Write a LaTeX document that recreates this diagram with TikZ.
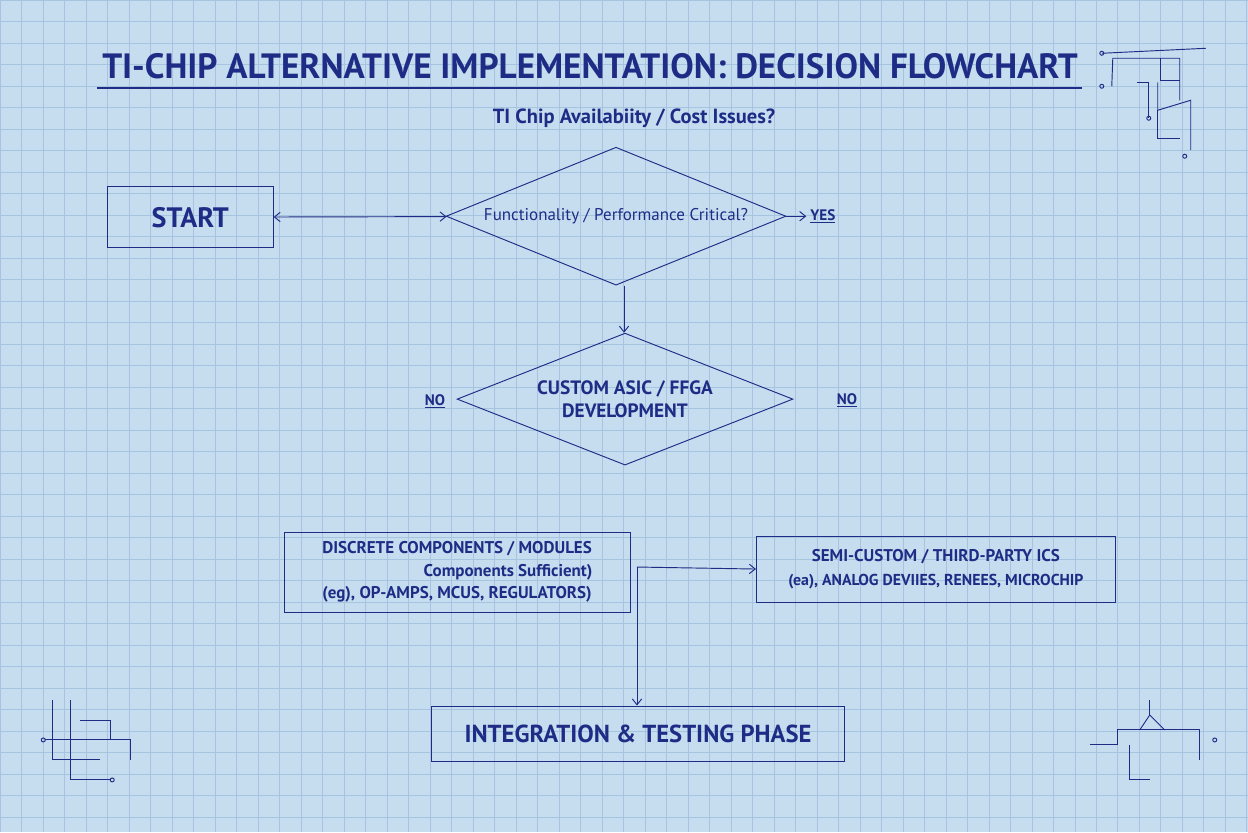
\documentclass[tikz,border=0pt]{standalone}
\usepackage{fontspec}
\setmainfont{PT Sans}
\usetikzlibrary{arrows.meta,positioning,shapes.geometric}
\definecolor{paper}{HTML}{C6DCEF}
\definecolor{gridc}{HTML}{A6C3E0}
\definecolor{ink}{HTML}{1E2C86}
\begin{document}
\begin{tikzpicture}[x=0.03cm, y=-0.03cm, >={Straight Barb[length=5pt,width=8pt]},
    box/.style={draw=ink, thick, text=ink, font=\bfseries, align=center, inner sep=0pt},
    dia/.style={draw=ink, thick, diamond, aspect=2.5, text=ink, align=center, inner sep=0pt},
    lbl/.style={text=ink, font=\bfseries},
    wire/.style={ink, thick}]
        % paper and grid
        \fill [paper] (0,0) rectangle (1248,832);
        \foreach \x in {0,21.5,...,1248}{
            \draw [gridc, line width=0.5pt] (\x,0) -- (\x,832);
        }
        \foreach \y in {0,21.5,...,832}{
            \draw [gridc, line width=0.5pt] (0,\y) -- (1248,\y);
        }
        \useasboundingbox (0,0) rectangle (1248,832);

        \node [lbl, font=\bfseries\fontsize{30}{34}\selectfont] (title) at (590,66) {TI-CHIP ALTERNATIVE IMPLEMENTATION: DECISION FLOWCHART};
        \draw [ink, line width=1.5pt] (97,88) -- (1082,88);
        \node [lbl, font=\bfseries\fontsize{17.5}{20}\selectfont] (issue) at (634,118) {TI Chip Availabiity / Cost Issues?};

        \node [box, minimum width=166*0.03cm, minimum height=61*0.03cm, font=\bfseries\fontsize{24}{28}\selectfont] (start) at (190,217) {START};
        \node [dia, minimum width=340*0.03cm, minimum height=138*0.03cm, font=\fontsize{14.5}{17}\selectfont] (crit) at (616,216) {Functionality / Performance Critical?};
        \node [lbl, font=\bfseries\fontsize{13}{15}\selectfont] (yes) at (823,216) {\underline{YES}};
        \node [dia, minimum width=336*0.03cm, minimum height=132*0.03cm, font=\bfseries\fontsize{16.5}{20}\selectfont] (asic) at (625,399) {CUSTOM ASIC / FFGA\\DEVELOPMENT};
        \node [lbl, font=\bfseries\fontsize{13}{15}\selectfont] (noleft) at (435,401) {\underline{NO}};
        \node [lbl, font=\bfseries\fontsize{13}{15}\selectfont] (noright) at (847,400) {\underline{NO}};

        \node [box, minimum width=346*0.03cm, minimum height=80*0.03cm, font=\bfseries\fontsize{14.5}{19}\selectfont] (discrete) at (457,572) {DISCRETE COMPONENTS / MODULES\\\hspace*{6em}Components Sufficient)\\(eg), OP-AMPS, MCUS, REGULATORS)};
        \node [box, minimum width=359*0.03cm, minimum height=66*0.03cm, font=\bfseries\fontsize{14.5}{20}\selectfont] (semi) at (936,569) {SEMI-CUSTOM / THIRD-PARTY ICS\\{\fontsize{13.5}{17}\selectfont (ea), ANALOG DEVIIES, RENEES, MICROCHIP}};
        \node [box, minimum width=413*0.03cm, minimum height=56*0.03cm, font=\bfseries\fontsize{21}{25}\selectfont] (integ) at (638,734) {INTEGRATION \& TESTING PHASE};

        \coordinate (split) at (637,567);
        \draw [wire, <->] (start) -- (crit);
        \draw [wire, ->] (crit.east) -- (yes.west);
        \draw [wire, ->] (crit.south -| 624,0) -- (asic.north -| 624,0);
        \draw [wire, ->] (split) -- (semi.west);
        \draw [wire, ->] (split) -- (integ.north -| split);

        % circuit doodles
        \begin{scope}[ink, line width=0.8pt]
            \draw (1102,53) -- (1206,48); \draw (1102,53) circle (2);
            \draw (1112,86) -- (1113,58) -- (1180,58) -- (1180,100); \draw (1102,86) circle (2);
            \draw (1161,58) -- (1161,80) -- (1180,80);
            \draw (1137,82) -- (1149,82) -- (1149,118); \draw (1149,118) circle (2);
            \draw (1158,82) -- (1158,110) -- (1191,100) -- (1191,150); \draw (1185,156) circle (2);
            \draw (1158,110) -- (1158,138) -- (1180,138);
            \draw (45,740) -- (130,740) -- (130,760); \draw (43,740) circle (2);
            \draw (52,700) -- (52,760) -- (100,760);
            \draw (70,700) -- (70,780) -- (110,780); \draw (112,780) circle (2);
            \draw (80,720) -- (110,720) -- (110,740);
            \draw (1090,745) -- (1118,745) -- (1118,730) -- (1200,730) -- (1200,760);
            \draw (1140,730) -- (1150,715) -- (1165,730); \draw (1150,700) -- (1150,715);
            \draw (1130,745) -- (1130,780) -- (1150,780); \draw (1215,740) circle (2);
        \end{scope}
    \end{tikzpicture}
\end{document}
